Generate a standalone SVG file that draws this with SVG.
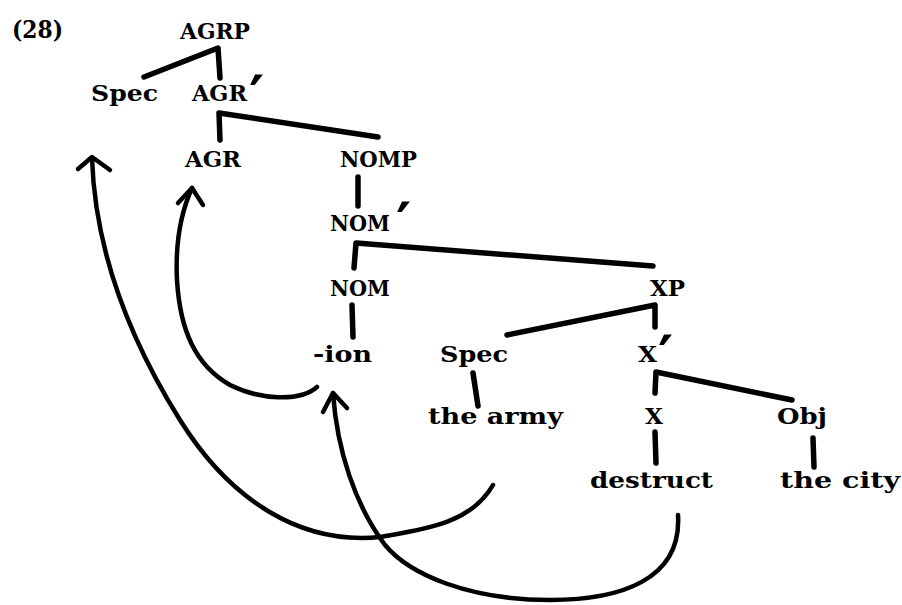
<svg xmlns="http://www.w3.org/2000/svg" width="902" height="605" viewBox="0 0 902 605">
<style>
text{font-family:"DejaVu Serif","Liberation Serif",serif;font-weight:bold;font-size:23px;fill:#000}
.pr{font-size:58px}
.ln{fill:none;stroke:#000;stroke-width:5.5;stroke-linecap:round;stroke-linejoin:round}
.ar{fill:none;stroke:#000;stroke-width:4.5;stroke-linecap:round;stroke-linejoin:round}
</style>
<rect width="902" height="605" fill="#fff"/>
<text id="ex" x="12" y="38" textLength="51" lengthAdjust="spacingAndGlyphs" style="font-size:24px">(28)</text>
<g id="agrp"><text x="180" y="39" textLength="70" lengthAdjust="spacingAndGlyphs">AGRP</text></g>
<g id="spec1"><text x="91" y="101" textLength="67" lengthAdjust="spacingAndGlyphs">Spec</text></g>
<g id="agrbar"><text x="192" y="101"><tspan textLength="55" lengthAdjust="spacingAndGlyphs">AGR</tspan><tspan class="pr" x="249" y="117">′</tspan></text></g>
<g id="agr"><text x="185" y="167" textLength="56" lengthAdjust="spacingAndGlyphs">AGR</text></g>
<g id="nomp"><text x="340" y="167" textLength="77" lengthAdjust="spacingAndGlyphs">NOMP</text></g>
<g id="nombar"><text x="330" y="231"><tspan textLength="60" lengthAdjust="spacingAndGlyphs">NOM</tspan><tspan class="pr" x="396" y="244">′</tspan></text></g>
<g id="nom"><text x="330" y="296" textLength="60" lengthAdjust="spacingAndGlyphs">NOM</text></g>
<g id="xp"><text x="650" y="296" textLength="35" lengthAdjust="spacingAndGlyphs">XP</text></g>
<g id="ion"><text x="313" y="362" textLength="59" lengthAdjust="spacingAndGlyphs">-ion</text></g>
<g id="spec2"><text x="440" y="362" textLength="68" lengthAdjust="spacingAndGlyphs">Spec</text></g>
<g id="xbar"><text x="638" y="362"><tspan textLength="19" lengthAdjust="spacingAndGlyphs">X</tspan><tspan class="pr" x="658" y="377">′</tspan></text></g>
<g id="army"><text x="428" y="424" textLength="135" lengthAdjust="spacingAndGlyphs">the army</text></g>
<g id="x"><text x="645" y="424" textLength="18" lengthAdjust="spacingAndGlyphs">X</text></g>
<g id="obj"><text x="777" y="424" textLength="50" lengthAdjust="spacingAndGlyphs">Obj</text></g>
<g id="destruct"><text x="590" y="488" textLength="123" lengthAdjust="spacingAndGlyphs">destruct</text></g>
<g id="city"><text x="780" y="488" textLength="120" lengthAdjust="spacingAndGlyphs">the city</text></g>
<g id="connectors">
<path class="ln" d="M144,77 L218,48 L220,78"/>
<path class="ln" d="M220,140 L219,113 L378,137"/>
<path class="ln" d="M358,177 L358,206"/>
<path class="ln" d="M354,268 L356,243 L653,266"/>
<path class="ln" d="M352,305 L353,337"/>
<path class="ln" d="M507,335 L655,305 L655,327"/>
<path class="ln" d="M473,373 L478,406"/>
<path class="ln" d="M655,393 L656,372 L792,400"/>
<path class="ln" d="M655,432 L656,463"/>
<path class="ln" d="M813,438 L814,467"/>
<path class="ar" d="M493,485 C470,525 420,530 380,537 C300,545 230,500 180,420 C130,340 95,250 92,158"/>
<path class="ar" d="M78,169 L92,157 L110,170"/>
<path class="ar" d="M317,387 C300,402 260,400 230,385 C195,365 180,330 177,280 C175,240 182,210 192,188"/>
<path class="ar" d="M178,203 L192,188 L203,205"/>
<path class="ar" d="M678,515 C682,580 620,600 550,600 C470,600 410,575 385,545 C355,505 337,450 333,393"/>
<path class="ar" d="M323,412 L333,393 L347,408"/>
</g>
</svg>
